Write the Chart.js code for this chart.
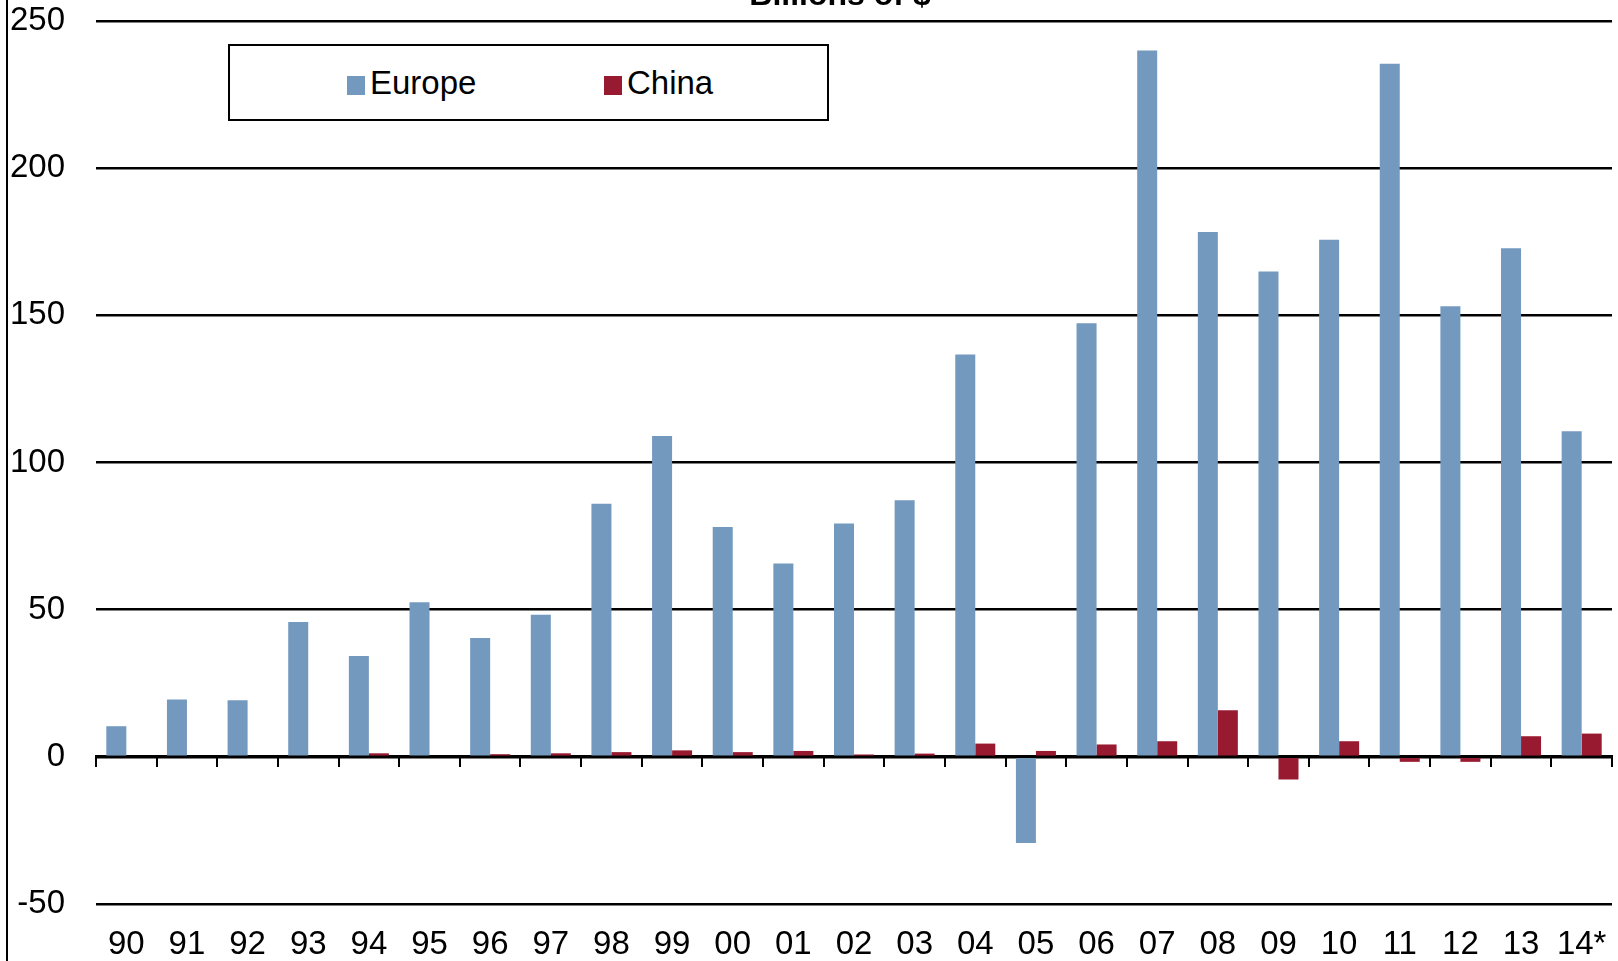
<!DOCTYPE html>
<html lang="en">
<head>
    <meta charset="UTF-8">
    <title>Europe and China</title>
    <script src="https://cdn.jsdelivr.net/npm/chart.js"></script>
    <style>
        html, body { margin: 0; padding: 0; background: #fff; overflow: hidden; }
        #wrap { position: relative; width: 1618px; height: 961px; font-family: "Liberation Sans", Arial, sans-serif; }
        #chart { position: absolute; left: 0; top: 0; }
        #edge { position: absolute; left: 6px; top: 0; width: 2px; height: 961px; background: #000; }
        #title { position: absolute; left: 840px; top: -22px; transform: translateX(-50%); font-size: 32px; line-height: 32px; font-weight: bold; white-space: nowrap; }
        #legend { position: absolute; left: 228px; top: 44px; width: 597px; height: 73px; border: 2px solid #000; background: #fff; }
        #legend span.item { position: absolute; top: 0; line-height: 73px; font-size: 33px; white-space: nowrap; }
        #legend span.box { display: inline-block; width: 18px; height: 19px; margin-right: 5px; vertical-align: -1px; }
    </style>
</head>
<body>
    <div id="wrap">
        <canvas id="chart" width="1618" height="961"></canvas>
        <div id="edge"></div>
        <div id="title">Billions of $</div>
        <div id="legend"></div>
    </div>

    <script>
        // years on the x axis
        const years = ['90', '91', '92', '93', '94', '95', '96', '97', '98', '99', '00', '01', '02',
                       '03', '04', '05', '06', '07', '08', '09', '10', '11', '12', '13', '14*'];

        // billions of $
        const europe = [10.4, 19.5, 19.2, 45.8, 34.3, 52.5, 40.4, 48.3, 86.0, 109.0, 78.1, 65.7, 79.3,
                        87.2, 136.7, -29.3, 147.3, 240.0, 178.3, 164.9, 175.7, 235.5, 153.1, 172.8, 110.6];
        const china = [0, 0, 0, 0, 1.2, 0, 0.9, 1.2, 1.6, 2.2, 1.6, 2.0, 0.8,
                       1.1, 4.5, 2.0, 4.2, 5.3, 15.8, -7.7, 5.3, -1.7, -1.7, 7.0, 7.9];

        const seriesNames = ['Europe', 'China'];
        const seriesColors = ['#7399bf', '#981a30'];

        const yMin = -50, yMax = 250, yStep = 50;

        const font = { family: '"Liberation Sans", Arial, sans-serif', size: 33 };

        // keep the zero axis from taking any room in the layout
        function noRoom(s) {
            s.height = 0;
            s.paddingLeft = 0;
            s.paddingRight = 0;
            s.paddingTop = 0;
            s.paddingBottom = 0;
        }

        const ctx = document.getElementById('chart').getContext('2d');
        const chart = new Chart(ctx, {
            type: 'bar',
            data: {
                labels: years,
                datasets: [
                    { label: seriesNames[0], data: europe, backgroundColor: seriesColors[0], xAxisID: 'x' },
                    { label: seriesNames[1], data: china, backgroundColor: seriesColors[1], xAxisID: 'x' }
                ]
            },
            options: {
                responsive: false,
                animation: false,
                events: [],
                layout: { padding: { top: 21, right: 6, left: 0, bottom: 0 } },
                datasets: { bar: { categoryPercentage: 0.66, barPercentage: 1 } },
                plugins: {
                    legend: { display: false },
                    tooltip: { enabled: false },
                    title: { display: false }
                },
                scales: {
                    x: {
                        type: 'category',
                        position: 'bottom',
                        offset: true,
                        grid: { display: false, drawTicks: false },
                        border: { display: false },
                        ticks: { color: '#000', font: font, padding: 21, maxRotation: 0, autoSkip: false },
                        afterFit: s => { s.height = 57; s.paddingLeft = 0; s.paddingRight = 0; }
                    },
                    // axis line with tick marks drawn at zero
                    x0: {
                        type: 'category',
                        position: { y: 0 },
                        offset: true,
                        ticks: { display: false },
                        grid: { offset: true, drawOnChartArea: false, drawTicks: true, tickLength: 9, color: '#000', lineWidth: 2 },
                        border: { display: true, color: '#000', width: 3 },
                        afterFit: noRoom
                    },
                    y: {
                        min: yMin,
                        max: yMax,
                        ticks: { stepSize: yStep, color: '#000', font: font, padding: 31 },
                        grid: { color: '#000', lineWidth: 2.5, drawTicks: false },
                        border: { display: false },
                        afterFit: s => { s.width = 96; s.paddingTop = 0; s.paddingBottom = 0; }
                    }
                }
            }
        });

        // legend box built from the datasets
        const legend = document.getElementById('legend');
        const itemLeft = [117, 374];
        chart.data.datasets.forEach((ds, i) => {
            const item = document.createElement('span');
            item.className = 'item';
            item.style.left = itemLeft[i] + 'px';
            const box = document.createElement('span');
            box.className = 'box';
            box.style.background = ds.backgroundColor;
            item.appendChild(box);
            item.appendChild(document.createTextNode(ds.label));
            legend.appendChild(item);
        });
    </script>
</body>
</html>
